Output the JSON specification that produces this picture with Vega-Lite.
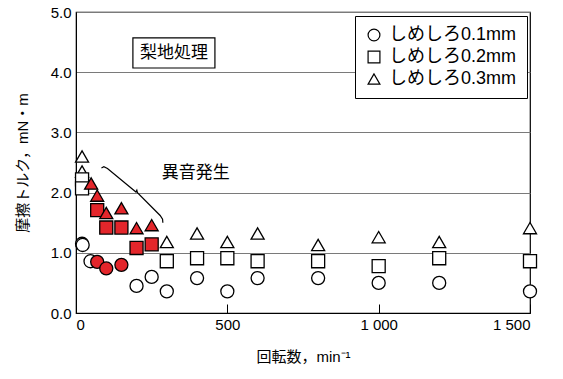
{
  "$schema": "https://vega.github.io/schema/vega-lite/v6.json",
  "width": 454,
  "height": 301,
  "autosize": {"type": "none"},
  "padding": {"left": 76, "top": 12, "right": 33, "bottom": 66},
  "background": "white",
  "config": {
    "font": "Liberation Sans, Noto Sans CJK JP",
    "view": {"stroke": "black", "strokeWidth": 1.2},
    "axis": {
      "labelFont": "Liberation Sans, Noto Sans CJK JP",
      "titleFont": "Liberation Sans, Noto Sans CJK JP",
      "labelFontSize": 15,
      "titleFontSize": 15,
      "labelColor": "black",
      "titleColor": "black",
      "titleFontWeight": "normal",
      "domainColor": "black",
      "tickColor": "black"
    }
  },
  "datasets": {
    "points": [
      {"rpm": 20, "torque": 2.6, "shim": "しめしろ0.3mm", "noise": "なし"},
      {"rpm": 20, "torque": 2.35, "shim": "しめしろ0.3mm", "noise": "なし"},
      {"rpm": 300, "torque": 1.18, "shim": "しめしろ0.3mm", "noise": "なし"},
      {"rpm": 400, "torque": 1.32, "shim": "しめしろ0.3mm", "noise": "なし"},
      {"rpm": 500, "torque": 1.18, "shim": "しめしろ0.3mm", "noise": "なし"},
      {"rpm": 600, "torque": 1.32, "shim": "しめしろ0.3mm", "noise": "なし"},
      {"rpm": 800, "torque": 1.13, "shim": "しめしろ0.3mm", "noise": "なし"},
      {"rpm": 1000, "torque": 1.26, "shim": "しめしろ0.3mm", "noise": "なし"},
      {"rpm": 1200, "torque": 1.18, "shim": "しめしろ0.3mm", "noise": "なし"},
      {"rpm": 1500, "torque": 1.41, "shim": "しめしろ0.3mm", "noise": "なし"},
      {"rpm": 20, "torque": 2.22, "shim": "しめしろ0.2mm", "noise": "なし"},
      {"rpm": 20, "torque": 2.07, "shim": "しめしろ0.2mm", "noise": "なし"},
      {"rpm": 300, "torque": 0.86, "shim": "しめしろ0.2mm", "noise": "なし"},
      {"rpm": 400, "torque": 0.91, "shim": "しめしろ0.2mm", "noise": "なし"},
      {"rpm": 500, "torque": 0.91, "shim": "しめしろ0.2mm", "noise": "なし"},
      {"rpm": 600, "torque": 0.86, "shim": "しめしろ0.2mm", "noise": "なし"},
      {"rpm": 800, "torque": 0.86, "shim": "しめしろ0.2mm", "noise": "なし"},
      {"rpm": 1000, "torque": 0.78, "shim": "しめしろ0.2mm", "noise": "なし"},
      {"rpm": 1200, "torque": 0.91, "shim": "しめしろ0.2mm", "noise": "なし"},
      {"rpm": 1500, "torque": 0.86, "shim": "しめしろ0.2mm", "noise": "なし"},
      {"rpm": 20, "torque": 1.15, "shim": "しめしろ0.1mm", "noise": "なし"},
      {"rpm": 22, "torque": 1.13, "shim": "しめしろ0.1mm", "noise": "なし"},
      {"rpm": 48, "torque": 0.86, "shim": "しめしろ0.1mm", "noise": "なし"},
      {"rpm": 200, "torque": 0.45, "shim": "しめしろ0.1mm", "noise": "なし"},
      {"rpm": 250, "torque": 0.6, "shim": "しめしろ0.1mm", "noise": "なし"},
      {"rpm": 300, "torque": 0.36, "shim": "しめしろ0.1mm", "noise": "なし"},
      {"rpm": 400, "torque": 0.58, "shim": "しめしろ0.1mm", "noise": "なし"},
      {"rpm": 500, "torque": 0.36, "shim": "しめしろ0.1mm", "noise": "なし"},
      {"rpm": 600, "torque": 0.58, "shim": "しめしろ0.1mm", "noise": "なし"},
      {"rpm": 800, "torque": 0.58, "shim": "しめしろ0.1mm", "noise": "なし"},
      {"rpm": 1000, "torque": 0.5, "shim": "しめしろ0.1mm", "noise": "なし"},
      {"rpm": 1200, "torque": 0.5, "shim": "しめしろ0.1mm", "noise": "なし"},
      {"rpm": 1500, "torque": 0.36, "shim": "しめしろ0.1mm", "noise": "なし"},
      {"rpm": 50, "torque": 2.15, "shim": "しめしろ0.3mm", "noise": "あり"},
      {"rpm": 70, "torque": 1.95, "shim": "しめしろ0.3mm", "noise": "あり"},
      {"rpm": 70, "torque": 1.71, "shim": "しめしろ0.2mm", "noise": "あり"},
      {"rpm": 100, "torque": 1.66, "shim": "しめしろ0.3mm", "noise": "あり"},
      {"rpm": 150, "torque": 1.74, "shim": "しめしろ0.3mm", "noise": "あり"},
      {"rpm": 100, "torque": 1.42, "shim": "しめしろ0.2mm", "noise": "あり"},
      {"rpm": 150, "torque": 1.42, "shim": "しめしろ0.2mm", "noise": "あり"},
      {"rpm": 200, "torque": 1.41, "shim": "しめしろ0.3mm", "noise": "あり"},
      {"rpm": 250, "torque": 1.46, "shim": "しめしろ0.3mm", "noise": "あり"},
      {"rpm": 200, "torque": 1.08, "shim": "しめしろ0.2mm", "noise": "あり"},
      {"rpm": 250, "torque": 1.14, "shim": "しめしろ0.2mm", "noise": "あり"},
      {"rpm": 70, "torque": 0.85, "shim": "しめしろ0.1mm", "noise": "あり"},
      {"rpm": 100, "torque": 0.74, "shim": "しめしろ0.1mm", "noise": "あり"},
      {"rpm": 150, "torque": 0.8, "shim": "しめしろ0.1mm", "noise": "あり"}
    ],
    "bracket": [
      {"rpm": 84, "torque": 2.41, "step": 1},
      {"rpm": 92, "torque": 2.43, "step": 2},
      {"rpm": 104, "torque": 2.4, "step": 3},
      {"rpm": 198, "torque": 2.01, "step": 4},
      {"rpm": 201, "torque": 2.04, "step": 5},
      {"rpm": 203, "torque": 2.0, "step": 6},
      {"rpm": 278, "torque": 1.62, "step": 7},
      {"rpm": 286, "torque": 1.56, "step": 8},
      {"rpm": 287, "torque": 1.5, "step": 9}
    ],
    "notes": [
      {"rpm": 324, "torque": 4.32, "label": "梨地処理", "x0": 188, "x1": 459, "y0": 4.07, "y1": 4.57},
      {"rpm": 396, "torque": 2.33, "label": "異音発生"}
    ]
  },
  "layer": [
    {
      "data": {"name": "notes"},
      "transform": [{"filter": "datum.x0 != null"}],
      "mark": {"type": "rect", "fill": "white", "stroke": "black", "strokeWidth": 1.2},
      "encoding": {
        "x": {"field": "x0", "type": "quantitative", "scale": {"domain": [0, 1500]}},
        "x2": {"field": "x1"},
        "y": {"field": "y0", "type": "quantitative"},
        "y2": {"field": "y1"}
      }
    },
    {
      "data": {"name": "notes"},
      "mark": {"type": "text", "fontSize": 17, "font": "Noto Sans CJK JP", "color": "black", "baseline": "middle", "align": "center"},
      "encoding": {
        "x": {"field": "rpm", "type": "quantitative"},
        "y": {"field": "torque", "type": "quantitative"},
        "text": {"field": "label"}
      }
    },
    {
      "data": {"name": "bracket"},
      "mark": {"type": "line", "color": "black", "strokeWidth": 1.2, "interpolate": "linear"},
      "encoding": {
        "x": {"field": "rpm", "type": "quantitative"},
        "y": {"field": "torque", "type": "quantitative"},
        "order": {"field": "step"}
      }
    },
    {
      "data": {"name": "points"},
      "mark": {"type": "point", "filled": false, "stroke": "black", "strokeWidth": 1.3, "opacity": 1, "size": 170},
      "encoding": {
        "x": {
          "field": "rpm", "type": "quantitative",
          "scale": {"domain": [0, 1500], "nice": false},
          "axis": {
            "values": [0, 500, 1000, 1500],
            "labelExpr": "replace(format(datum.value, ','), ',', ' ')",
            "grid": false,
            "tickSize": -9,
            "labelPadding": 13,
            "title": "回転数，min⁻¹",
            "titlePadding": 17
          }
        },
        "y": {
          "field": "torque", "type": "quantitative",
          "scale": {"domain": [0, 5], "nice": false},
          "axis": {
            "values": [0, 1, 2, 3, 4, 5],
            "format": ".1f",
            "grid": true,
            "gridColor": "#7a7a7a",
            "gridWidth": 1,
            "gridOpacity": 1,
            "ticks": false,
            "labelPadding": 5,
            "title": "摩擦トルク，mN・m",
            "titlePadding": 20
          }
        },
        "shape": {
          "field": "shim", "type": "nominal",
          "scale": {"domain": ["しめしろ0.1mm", "しめしろ0.2mm", "しめしろ0.3mm"], "range": ["circle", "square", "triangle-up"]},
          "legend": {
            "title": null,
            "orient": "none",
            "legendX": 279,
            "legendY": 4,
            "strokeColor": "black",
            "fillColor": "white",
            "padding": 10,
            "labelFontSize": 18,
            "labelFont": "Liberation Sans, Noto Sans CJK JP",
            "labelColor": "black",
            "labelLimit": 300,
            "labelOffset": 6,
            "rowPadding": 4,
            "symbolSize": 140,
            "symbolFillColor": "white",
            "symbolStrokeColor": "black",
            "symbolStrokeWidth": 1.2,
            "symbolOpacity": 1
          }
        },
        "fill": {
          "field": "noise", "type": "nominal",
          "scale": {"domain": ["なし", "あり"], "range": ["white", "#e3262b"]},
          "legend": null
        }
      }
    }
  ]
}
